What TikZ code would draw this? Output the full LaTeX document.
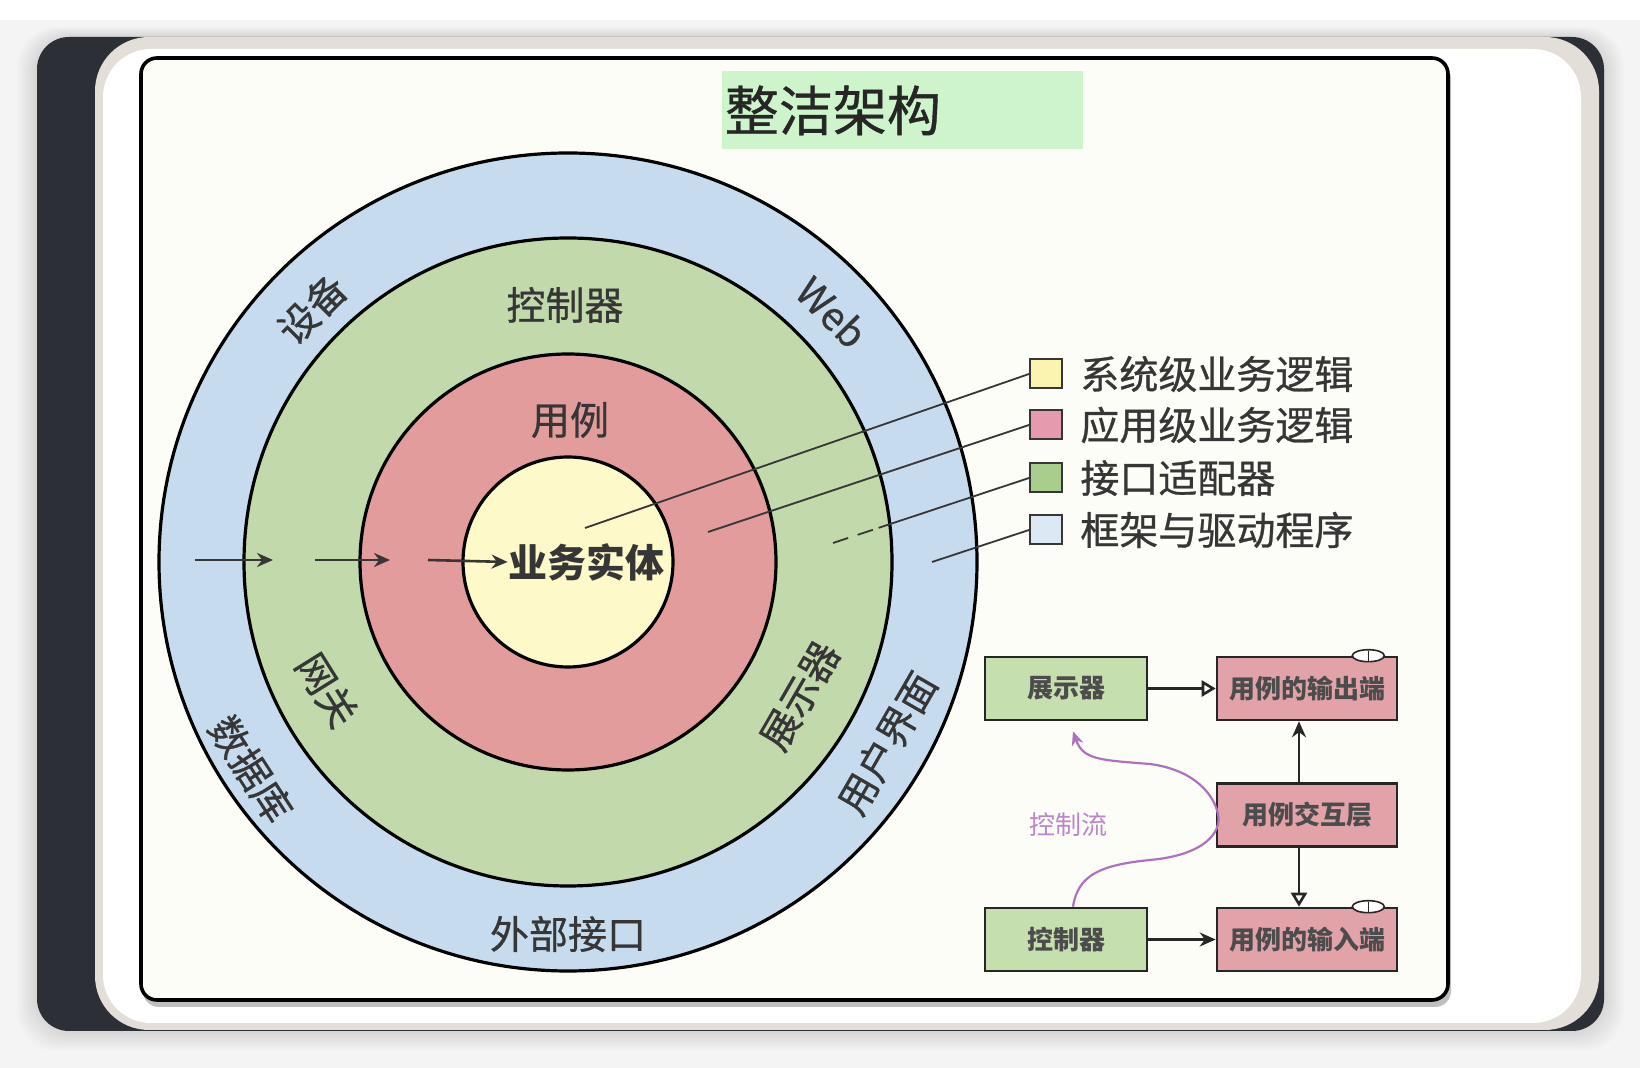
\documentclass[tikz,border=0pt]{standalone}
\usepackage{fontspec}
\setmainfont{Noto Sans CJK SC}
\newfontfamily\heavyfont[FakeBold=0.7]{Noto Sans CJK SC}
\usetikzlibrary{arrows.meta,calc,shapes.geometric}
\definecolor{pagebg}{HTML}{F4F4F4}
\definecolor{darkbg}{HTML}{2C3036}
\definecolor{beige}{HTML}{E3DED7}
\definecolor{framebg}{HTML}{FDFDF8}
\definecolor{titlegreen}{HTML}{CEF4CB}
\definecolor{ringblue}{HTML}{C6DCEE}
\definecolor{ringgreen}{HTML}{C2D9AC}
\definecolor{ringred}{HTML}{E29C9C}
\definecolor{ringyellow}{HTML}{FDF9C9}
\definecolor{legyellow}{HTML}{FBF4B0}
\definecolor{legpink}{HTML}{E59AAE}
\definecolor{leggreen}{HTML}{A8CD8C}
\definecolor{legblue}{HTML}{DCE9F5}
\definecolor{boxgreen}{HTML}{C6DFAE}
\definecolor{boxpink}{HTML}{E2A3A8}
\definecolor{labeltext}{HTML}{363636}
\definecolor{flowpurple}{HTML}{B070C0}
\begin{document}
\begin{tikzpicture}[x=0.5pt,y=-0.5pt,
  ring/.style={circle,draw=black,line width=1.6pt,inner sep=0pt},
  ringlabel/.style={font=\heavyfont\fontsize{19.5}{20}\selectfont,text=labeltext,inner sep=0pt},
  axisarrow/.style={draw=labeltext,line width=1.3pt,-{Stealth[length=8pt,width=7pt]}},
  leader/.style={draw=labeltext,line width=0.9pt},
  legbox/.style={draw=labeltext,line width=1pt,minimum width=16pt,minimum height=14.5pt,inner sep=0pt},
  legtext/.style={font=\heavyfont\fontsize{19.5}{20}\selectfont,text=labeltext,inner sep=0pt,anchor=west},
  umlbox/.style={draw=black!85,line width=1.3pt,minimum height=31.5pt,inner sep=0pt,font=\fontsize{13}{14}\selectfont\bfseries,text=black!70},
  ibox/.style={umlbox,fill=boxgreen,minimum width=81pt},
  ubox/.style={umlbox,fill=boxpink,minimum width=90pt},
  realize/.style={draw=black!85,line width=1.3pt,-{Triangle[open,length=7pt,width=8pt]}},
  uses/.style={draw=black!85,line width=1.3pt,-{Stealth[length=8pt,width=7pt]}},
  ctrlflow/.style={draw=flowpurple,line width=1.1pt,-{Stealth[length=7pt,width=6pt]}}
]
\useasboundingbox (0,0) rectangle (1640,1068);
\fill[pagebg] (0,0) rectangle (1640,1068);
\fill[white] (0,0) rectangle (1640,20);
% soft shadow around the card
\foreach \i in {1,...,10}{
  \fill[black,opacity=0.012,rounded corners=20pt] (37-2*\i,37-\i) rectangle (1604+2*\i,1031+2*\i);
}
\fill[darkbg,rounded corners=16pt] (37,37) rectangle (1604,1031);
\fill[beige,rounded corners=27pt] (95,37) rectangle (1599,1030);
\fill[white,rounded corners=24pt] (103,49) rectangle (1581,1023);
% inner frame
\fill[black,opacity=0.25,rounded corners=8pt] (143,63) rectangle (1451,1007);
\draw[line width=1.8pt,fill=framebg,rounded corners=8pt] (141,58) rectangle (1448,1000);

% title
\node[anchor=north west,fill=titlegreen,minimum width=180.5pt,minimum height=39pt,
      text width=178pt,inner sep=1.25pt,align=left,
      font=\heavyfont\fontsize{27}{28}\selectfont,text=black!85] (title) at (722,71) {整洁架构};

% rings
\node[ring,fill=ringblue,minimum size=409pt] (outer) at (568,562) {};
\node[ring,fill=ringgreen,minimum size=324pt] (green) at (568,562) {};
\node[ring,fill=ringred,minimum size=208pt] (red) at (568,562) {};
\node[ring,fill=ringyellow,minimum size=105pt] (yellow) at (568,562) {};

% ring labels
\node[ringlabel,rotate=45] (shebei) at (312,309) {设备};
\node[ringlabel,rotate=-45] (web) at (832,312) {Web};
\node[ringlabel] (kongzhiqi) at (565,305) {控制器};
\node[ringlabel] (yongli) at (570,420) {用例};
\node[ringlabel,font=\fontsize{19.5}{20}\selectfont\bfseries] (entity) at (586,562) {业务实体};
\node[ringlabel,rotate=-58] (wangguan) at (327,690) {网关};
\node[ringlabel,rotate=-57] (shujuku) at (251,769) {数据库};
\node[ringlabel,rotate=60] (zhanshiqi) at (800,696) {展示器};
\node[ringlabel,rotate=60] (yonghu) at (887,743) {用户界面};
\node[ringlabel] (waibu) at (568,934) {外部接口};

% inward arrows
\coordinate (a1s) at (195,560); \coordinate (a1e) at (273,560);
\coordinate (a2s) at (315,560); \coordinate (a2e) at (390,560);
\coordinate (a3s) at (428,560);
\draw[axisarrow] (a1s) -- (a1e);
\draw[axisarrow] (a2s) -- (a2e);
\draw[axisarrow] (a3s) -- (entity.west);

% legend
\node[legbox,fill=legyellow] (lg1) at (1046,374) {};
\node[legbox,fill=legpink]   (lg2) at (1046,425) {};
\node[legbox,fill=leggreen]  (lg3) at (1046,478) {};
\node[legbox,fill=legblue]   (lg4) at (1046,530) {};
\node[legtext] (lt1) at (1080,374) {系统级业务逻辑};
\node[legtext] (lt2) at (1080,425) {应用级业务逻辑};
\node[legtext] (lt3) at (1080,478) {接口适配器};
\node[legtext] (lt4) at (1080,530) {框架与驱动程序};

% leader lines
\coordinate (p1) at (585,528);
\coordinate (p2) at (708,532);
\coordinate (p3) at (833,543);
\coordinate (p4) at (932,562);
\draw[leader] (p1) -- (lg1.west);
\draw[leader] (p2) -- (lg2.west);
\draw[leader,dash pattern=on 8pt off 5pt on 8pt off 3pt on 300pt] (p3) -- (lg3.west);
\draw[leader] (p4) -- (lg4.west);

% lower-right diagram
\node[ibox] (pres)  at (1066,688.5) {展示器};
\node[ubox] (out)   at (1307,688.5) {用例的输出端};
\node[ubox] (inter) at (1307,815)   {用例交互层};
\node[ibox] (ctrl)  at (1066,939.5) {控制器};
\node[ubox] (in)    at (1307,939.5) {用例的输入端};

% interface markers
\foreach \n in {out,in}{
  \draw[black!85,line width=0.8pt,fill=white] ($(\n.north east)+(-30,0)$) ellipse [x radius=8pt,y radius=3pt];
  \draw[black!85,line width=0.8pt] ($(\n.north east)+(-30,-5)$) -- ($(\n.north east)+(-30,5)$);
}

\draw[realize] (pres.east) -- (out.west);
\draw[uses] ([xshift=-4pt]inter.north) -- ([xshift=-4pt]out.south);
\draw[realize] ([xshift=-4pt]inter.south) -- ([xshift=-4pt]in.north);
\draw[uses] (ctrl.east) -- (in.west);

\draw[ctrlflow] ([xshift=3.5pt]ctrl.north) .. controls (1078,875) and (1100,865) .. (1150,860)
  .. controls (1205,855) and (1222,832) .. (1218,814)
  .. controls (1214,795) and (1195,770) .. (1150,764)
  .. controls (1100,760) and (1083,760) .. ([xshift=3.5pt,yshift=-5pt]pres.south);
\node[font=\fontsize{13}{14}\selectfont,text=flowpurple!85] (flow) at (1068,825) {控制流};
\end{tikzpicture}
\end{document}
